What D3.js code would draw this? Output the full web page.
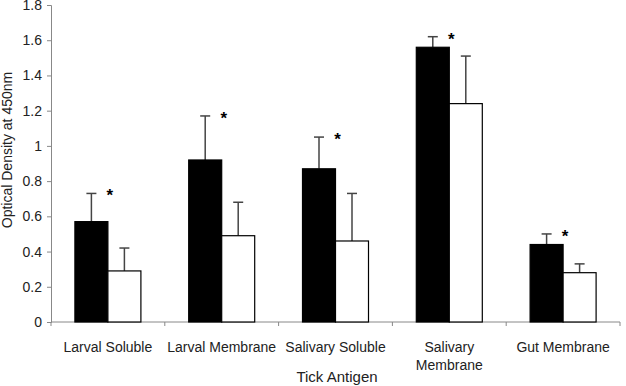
<!DOCTYPE html>
<html>
<head>
<meta charset="utf-8">
<script src="https://cdn.jsdelivr.net/npm/d3@7"></script>
<style>
  body { margin: 0; background: #fff; }
  svg text { font-family: "Liberation Sans", Arial, sans-serif; fill: #222; }
</style>
</head>
<body>
<svg id="chart" width="626" height="386"></svg>
<script>
// data
var categories = [['Larval Soluble'], ['Larval Membrane'], ['Salivary Soluble'], ['Salivary', 'Membrane'], ['Gut Membrane']]
var blackValues = [0.57, 0.92, 0.87, 1.56, 0.44]
var blackErrors = [0.16, 0.25, 0.18, 0.06, 0.06]
var whiteValues = [0.29, 0.49, 0.46, 1.24, 0.28]
var whiteErrors = [0.13, 0.19, 0.27, 0.27, 0.05]
var significant = [true, true, true, true, true]
var yTicks = [0, 0.2, 0.4, 0.6, 0.8, 1, 1.2, 1.4, 1.6, 1.8]

var svg = d3.select('#chart')

// plot edges (top is a window global, so don't use that name)
var mLeft = 51, mRight = 620, mTop = 5, mBottom = 322

var x = d3.scaleBand()
  .domain(d3.range(categories.length))
  .range([mLeft, mRight])

var bw = 33 // bar width
var y = d3.scaleLinear().domain([0, 1.8]).range([mBottom, mTop])

// y axis
var yAxis = svg.append('g')
  .attr('transform', `translate(${mLeft},0)`)
  .call(d3.axisLeft(y).tickValues(yTicks).tickSize(4).tickPadding(5).tickFormat(d3.format('')))
yAxis.select('.domain').attr('stroke', '#888')
yAxis.selectAll('.tick line').attr('stroke', '#888')
yAxis.selectAll('text').style('font-size', '14px').attr('fill', '#222')

// x axis line + ticks at category boundaries
svg.append('line')
  .attr('x1', mLeft).attr('x2', mRight)
  .attr('y1', mBottom).attr('y2', mBottom)
  .attr('stroke', '#888')
svg.selectAll('.xtick')
  .data(d3.range(categories.length + 1))
  .enter().append('line')
  .attr('x1', d => mLeft + d * x.bandwidth())
  .attr('x2', d => mLeft + d * x.bandwidth())
  .attr('y1', mBottom).attr('y2', mBottom + 4)
  .attr('stroke', '#888')

function drawSeries(values, errors, fill, offset) {
  var g = svg.append('g')
  values.forEach(function (v, i) {
    var cx = x(i) + x.bandwidth() / 2
    var bx = cx + offset
    var et = y(v + errors[i])
    // error bar (upper only)
    g.append('line')
      .attr('x1', bx + bw / 2).attr('x2', bx + bw / 2)
      .attr('y1', y(v)).attr('y2', et)
      .attr('stroke', '#444').attr('stroke-width', 1.5)
    g.append('line')
      .attr('x1', bx + bw / 2 - 5).attr('x2', bx + bw / 2 + 5)
      .attr('y1', et).attr('y2', et)
      .attr('stroke', '#444').attr('stroke-width', 1.5)
    g.append('rect')
      .attr('x', bx).attr('y', y(v))
      .attr('width', bw).attr('height', mBottom - y(v))
      .attr('fill', fill)
      .attr('stroke', '#000').attr('stroke-width', 1.2)
  })
}
drawSeries(blackValues, blackErrors, '#000', -bw)
drawSeries(whiteValues, whiteErrors, '#fff', 0)

// asterisks
svg.selectAll('.star')
  .data(d3.range(categories.length).filter(i => significant[i]))
  .enter().append('text')
  .attr('x', i => x(i) + x.bandwidth() / 2 + 2)
  .attr('y', i => y(blackValues[i] + blackErrors[i]) + 8)
  .attr('text-anchor', 'middle')
  .style('font-size', '17px')
  .style('font-weight', 'bold')
  .style('fill', '#000')
  .text('*')

// category labels
var labels = svg.selectAll('.cat')
  .data(categories)
  .enter().append('text')
  .attr('text-anchor', 'middle')
  .attr('x', (d, i) => x(i) + x.bandwidth() / 2)
  .attr('y', 352)
  .style('font-size', '14px')
labels.selectAll('tspan')
  .data(d => d)
  .enter().append('tspan')
  .attr('x', function () { return this.parentNode.getAttribute('x') })
  .attr('dy', (d, i) => i === 0 ? 0 : 18)
  .text(d => d)

// axis titles
svg.append('text')
  .attr('x', 337).attr('y', 382)
  .attr('text-anchor', 'middle')
  .style('font-size', '15px')
  .text('Tick Antigen')

svg.append('text')
  .attr('transform', 'translate(12,150) rotate(-90)')
  .attr('text-anchor', 'middle')
  .style('font-size', '14px')
  .text('Optical Density at 450nm')
</script>
</body>
</html>
